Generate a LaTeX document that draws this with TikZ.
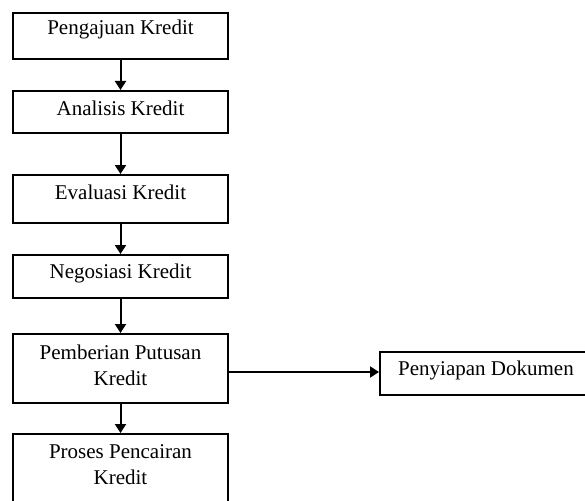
\documentclass[tikz,border=0pt]{standalone}
\usepackage{fontspec}
\setmainfont{Liberation Serif}
\usetikzlibrary{arrows.meta}
\begin{document}
\begin{tikzpicture}[x=1pt,y=-1pt,
  box/.style={draw=black, line width=2pt, rectangle, minimum width=215pt, inner sep=0pt},
  txt/.style={font=\fontsize{21}{25.5}\selectfont, inner sep=0pt, anchor=base, align=center, text=black},
  conn/.style={draw=black, line width=2pt, -{Triangle[length=9pt,width=11pt]}}]
\useasboundingbox (0,0) rectangle (585,500);
\clip (0,0) rectangle (585,500);
\fill[white] (0,0) rectangle (585,500);
% boxes
\node[box, minimum height=46pt] (b1) at (120.5,36) {};
\node[box, minimum height=42pt] (b2) at (120.5,112) {};
\node[box, minimum height=48pt] (b3) at (120.5,199) {};
\node[box, minimum height=43pt] (b4) at (120.5,276.5) {};
\node[box, minimum height=69pt] (b5) at (120.5,368.5) {};
\node[box, minimum height=76pt] (b6) at (120.5,472) {};
\node[box, minimum height=43pt] (b7) at (487.5,373.5) {};
% texts
\node[txt] (t1) at (120.5,35) {Pengajuan Kredit};
\node[txt] (t2) at (120.5,115) {Analisis Kredit};
\node[txt] (t3) at (120.5,199) {Evaluasi Kredit};
\node[txt] (t4) at (120.5,278) {Negosiasi Kredit};
\node[txt] (t5) at (120.5,385) {Pemberian Putusan\\Kredit};
\node[txt] (t6) at (120.5,484) {Proses Pencairan\\Kredit};
\node[txt] (t7) at (486,375) {Penyiapan Dokumen};
% connectors
\draw[conn] (b1.south) -- (b2.north);
\draw[conn] (b2.south) -- (b3.north);
\draw[conn] (b3.south) -- (b4.north);
\draw[conn] (b4.south) -- (b5.north);
\draw[conn] (b5.south) -- (b6.north);
\draw[conn] (b5.east |- 0,372) -- (b7.west |- 0,372);
\end{tikzpicture}
\end{document}
